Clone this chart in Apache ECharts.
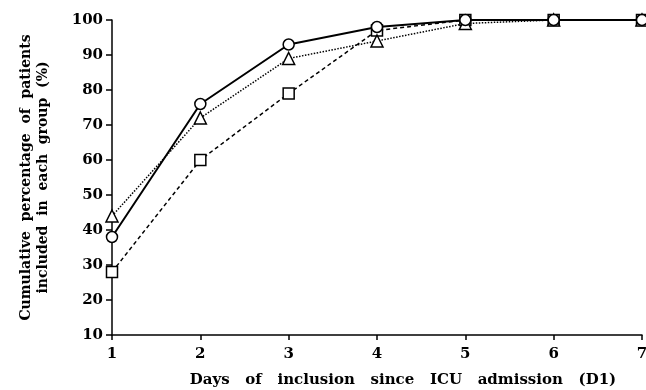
<!DOCTYPE html>
<html>
<head>
<meta charset="utf-8">
<script src="https://cdn.jsdelivr.net/npm/echarts@6/dist/echarts.min.js"></script>
<style>
html, body { margin: 0; padding: 0; background: #fff; }
#chart { width: 646px; height: 390px; }
</style>
</head>
<body>
<div id="chart"></div>
<script>
var days = [1, 2, 3, 4, 5, 6, 7];
var circleGroup = [38, 76, 93, 98, 100, 100, 100];
var triangleGroup = [44, 72, 89, 94, 99, 100, 100];
var squareGroup = [28, 60, 79, 97, 100, 100, 100];
var yTicks = [10, 20, 30, 40, 50, 60, 70, 80, 90, 100];

var chart = echarts.init(document.getElementById('chart'));

function pairs(vals) {
    return days.map(function (d, i) { return [d, vals[i]]; });
}

var font = '"DejaVu Serif", "Liberation Serif", serif';

var option = {
    animation: false,
    grid: { left: 112, right: 4, top: 20, bottom: 55, outerBoundsMode: 'none', containLabel: false },
    xAxis: {
        type: 'value',
        min: 1, max: 7, interval: 1,
        name: 'Days   of   inclusion   since   ICU   admission   (D1)',
        nameLocation: 'middle',
        nameGap: 38,
        nameTextStyle: { fontFamily: font, fontWeight: 'bold', fontSize: 15, color: '#000', padding: [0, 0, 0, 52] },
        axisLine: { lineStyle: { color: '#000', width: 1.5 } },
        axisTick: { length: 5, lineStyle: { color: '#000', width: 1.5 } },
        axisLabel: { fontFamily: font, fontWeight: 'bold', fontSize: 15, color: '#000', margin: 12 },
        splitLine: { show: false }
    },
    yAxis: {
        type: 'value',
        min: 10, max: 100, interval: 10,
        name: 'Cumulative  percentage  of  patients\nincluded  in  each  group  (%)',
        nameLocation: 'middle',
        nameGap: 60,
        nameTextStyle: { fontFamily: font, fontWeight: 'bold', fontSize: 14, color: '#000', lineHeight: 17 },
        axisLine: { lineStyle: { color: '#000', width: 1.5 } },
        axisTick: { length: 6, lineStyle: { color: '#000', width: 1.5 } },
        axisLabel: {
            fontFamily: font, fontWeight: 'bold', fontSize: 15, color: '#000', margin: 9,
            formatter: function (v) { return yTicks.indexOf(v) >= 0 ? String(v) : ''; }
        },
        splitLine: { show: false }
    },
    series: [
        {
            name: 'square',
            type: 'line',
            data: pairs(squareGroup),
            symbol: 'rect',
            symbolSize: 11,
            lineStyle: { color: '#000', width: 1.5, type: [4, 3] },
            itemStyle: { color: '#fff', borderColor: '#000', borderWidth: 1.5 }
        },
        {
            name: 'triangle',
            type: 'line',
            data: pairs(triangleGroup),
            symbol: 'triangle',
            symbolSize: 12,
            lineStyle: { color: '#000', width: 1.5, type: [1.5, 1.5] },
            itemStyle: { color: '#fff', borderColor: '#000', borderWidth: 1.5 }
        },
        {
            name: 'circle',
            type: 'line',
            data: pairs(circleGroup),
            symbol: 'circle',
            symbolSize: 11,
            lineStyle: { color: '#000', width: 2 },
            itemStyle: { color: '#fff', borderColor: '#000', borderWidth: 1.5 }
        }
    ]
};

chart.setOption(option);
</script>
</body>
</html>
